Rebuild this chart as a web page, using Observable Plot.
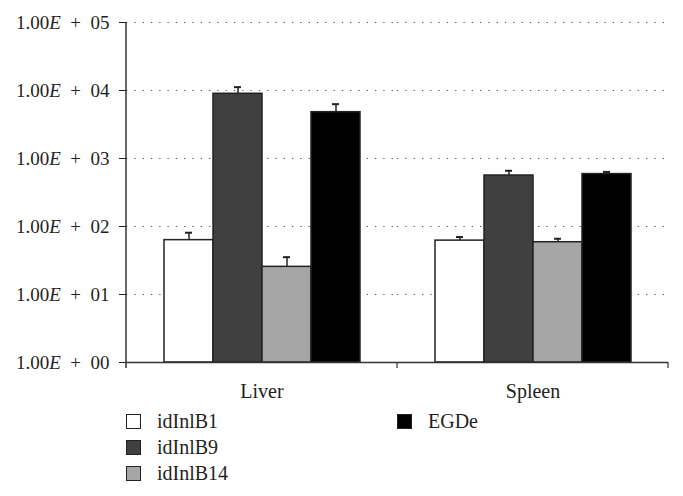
<!DOCTYPE html>
<html><head><meta charset="utf-8">
<script src="https://cdn.jsdelivr.net/npm/d3@7"></script>
<script src="https://cdn.jsdelivr.net/npm/@observablehq/plot@0.6"></script>
<style>
body{margin:0;background:#fff;font-family:"Liberation Serif",serif;color:#231f20;}
#wrap{position:relative;width:683px;}
#legend{position:relative;width:683px;height:88px;}
.col{position:absolute;top:0px;}
.item{display:flex;align-items:center;height:26px;font-size:20px;}
.sw{width:13px;height:13px;border:1.5px solid #222;margin-right:16px;box-sizing:content-box;}
</style></head><body><div id="wrap"><div id="chart"></div><div id="legend"></div></div>
<script>
const categories = ["Liver", "Spleen"];
const series = ["idInlB1", "idInlB9", "idInlB14", "EGDe"];
const liverValues = [63, 8950, 25.5, 4800];
const liverUpper = [81, 11200, 35.4, 6300];
const spleenValues = [62, 562, 58.7, 590];
const spleenUpper = [70, 660, 66, 635];
const yTicks = [1, 10, 100, 1000, 10000, 100000];
const colors = ["#ffffff", "#404040", "#a6a6a6", "#000000"];

const values = [liverValues, spleenValues];
const uppers = [liverUpper, spleenUpper];
const data = categories.flatMap((c, i) => series.map((s, j) => ({
  category: c, series: s, value: values[i][j], upper: uppers[i][j]
})));

const plot = Plot.plot({
  width: 683, height: 408,
  marginLeft: 125, marginRight: 15, marginTop: 22, marginBottom: 46,
  style: {fontFamily: "'Liberation Serif', serif", fontSize: "20px", color: "#231f20", background: "#fff"},
  fx: {domain: categories, padding: 0, label: null},
  x: {domain: series, paddingInner: 0, paddingOuter: 0.75, axis: null},
  y: {type: "log", domain: [1, 100000], axis: null},
  color: {domain: series, range: colors},
  marks: [
    Plot.gridY(yTicks.slice(1), {stroke: "#555", strokeOpacity: 1, strokeDasharray: "1.3,7", strokeWidth: 1.2}),
    Plot.ruleX(data, {fx: "category", x: "series", y1: "value", y2: "upper", stroke: "#222", strokeWidth: 1.5}),
    Plot.tickY(data, {fx: "category", x: "series", y: "upper", insetLeft: 21, insetRight: 21, stroke: "#222", strokeWidth: 2}),
    Plot.barY(data, {fx: "category", x: "series", y1: 1, y2: "value", fill: "series", stroke: "#222", strokeWidth: 1.5}),
    Plot.ruleY([1], {stroke: "#333", strokeWidth: 1.5}),
    Plot.axisY(yTicks, {tickSize: 7, tickPadding: 10, label: null, fontSize: 19,
      tickFormat: d => "1.00E + 0" + Math.round(Math.log10(d))}),
    Plot.axisFx({anchor: "bottom", tickSize: 0, tickPadding: 21, label: null, fontSize: 20})
  ]
});
document.getElementById("chart").appendChild(plot);

// italic E and wider math spacing in y tick labels
d3.select(plot).selectAll('g[aria-label="y-axis tick label"] text').each(function () {
  const t = this.textContent;
  const exp = t.slice(t.length - 2);
  const sel = d3.select(this);
  sel.text(null);
  sel.append("tspan").text("1.00");
  sel.append("tspan").attr("font-style", "italic").text("E");
  sel.append("tspan").text("\u2002+\u2002" + exp);
});

// y axis line and x-axis boundary ticks, positioned from Plot's scales
const ys = plot.scale("y"), fxs = plot.scale("fx");
const x0 = fxs.apply(categories[0]);
const svg = d3.select(plot);
svg.append("line").attr("x1", x0).attr("x2", x0)
  .attr("y1", ys.apply(100000)).attr("y2", ys.apply(1) + 6)
  .attr("stroke", "#333").attr("stroke-width", 1.5);
const bounds = categories.map(c => fxs.apply(c)).concat([fxs.apply(categories[categories.length - 1]) + fxs.bandwidth]);
bounds.slice(1).forEach(b => svg.append("line").attr("x1", b).attr("x2", b)
  .attr("y1", ys.apply(1)).attr("y2", ys.apply(1) + 6).attr("stroke", "#333").attr("stroke-width", 1.2));

// legend
const legend = d3.select("#legend");
const cols = [series.slice(0, 3), series.slice(3)];
const colLeft = [x0, fxs.apply(categories[1])];
cols.forEach((items, k) => {
  const col = legend.append("div").attr("class", "col").style("left", colLeft[k] + "px");
  items.forEach(s => {
    const it = col.append("div").attr("class", "item");
    it.append("div").attr("class", "sw").style("background", colors[series.indexOf(s)]);
    it.append("span").text(s);
  });
});
</script></body></html>
